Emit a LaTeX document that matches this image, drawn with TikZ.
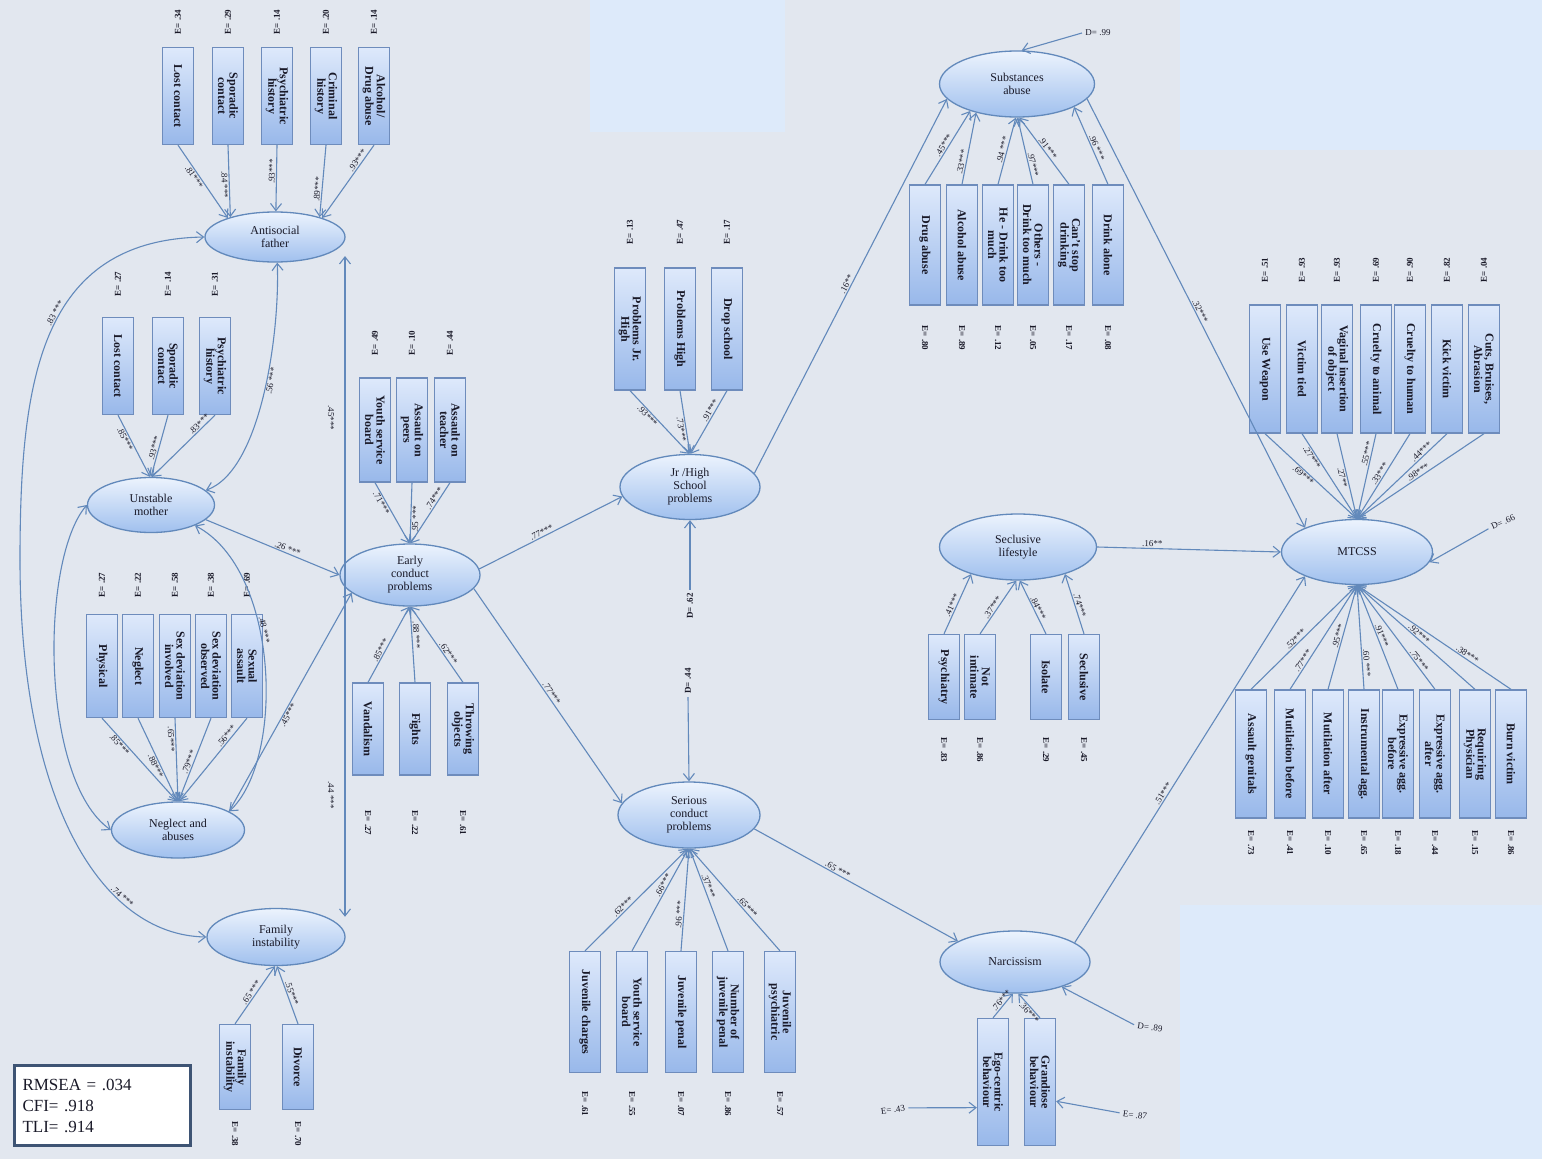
\documentclass[tikz,border=0pt]{standalone}
\usepackage{fontspec}
\setmainfont{Liberation Serif}
\usetikzlibrary{shapes.geometric,arrows.meta,calc}
\definecolor{bgc}{RGB}{226,231,239}
\definecolor{patch}{RGB}{221,234,250}
\definecolor{ln}{RGB}{98,137,187}
\definecolor{bxc}{RGB}{110,140,188}
\definecolor{bxdark}{RGB}{152,184,234}
\definecolor{bxlight}{RGB}{222,233,251}
\definecolor{latlight}{RGB}{236,243,253}
\definecolor{latdark}{RGB}{160,192,238}
\definecolor{txt}{RGB}{25,25,40}
\definecolor{fitc}{RGB}{62,84,116}
\newcommand\bxfont{\bfseries\fontsize{12}{11.5}\selectfont}
\newcommand\latfont{\fontsize{12}{13}\selectfont}
\newcommand\lbfont{\fontsize{9}{10}\selectfont}
\tikzset{
 obs/.style={draw=bxc, line width=1.3pt, rotate=-90, minimum height=31pt, inner sep=1pt, align=center, font=\bxfont, text=txt, top color=bxlight, bottom color=bxdark},
 lat/.style={ellipse, draw=ln, line width=1.3pt, top color=latlight, bottom color=latdark, align=center, inner sep=0pt, font=\latfont, text=txt},
 ld/.style={draw=ln, line width=1.1pt, -{Straight Barb[length=7pt,width=11pt]}},
 dd/.style={draw=ln, line width=1.1pt, {Straight Barb[length=7pt,width=11pt]}-{Straight Barb[length=7pt,width=11pt]}},
 lbl/.style={font=\lbfont, text=txt, sloped, inner sep=1pt},
 eu/.style={rotate=90, font=\lbfont\bfseries, text=txt},
 edn/.style={rotate=-90, font=\lbfont\bfseries, text=txt},
 plain/.style={font=\lbfont, text=txt},
}
\begin{document}
\begin{tikzpicture}[x=1pt,y=-1pt]
\useasboundingbox (0,0) rectangle (1542,1159);
\fill[bgc] (0,0) rectangle (1542,1159);
\fill[patch] (590,0) rectangle (785,132);
\fill[patch] (1180,0) rectangle (1542,150);
\fill[patch] (1180,905) rectangle (1542,1159);

% ---------- latent variables
\node[lat, minimum width=140, minimum height=50] (af) at (275,237) {Antisocial\\father};
\node[lat, minimum width=127, minimum height=55] (um) at (151,505) {Unstable\\mother};
\node[lat, minimum width=133, minimum height=56] (na) at (178,830) {Neglect and\\abuses};
\node[lat, minimum width=138, minimum height=57] (fi) at (276,937) {Family\\instability};
\node[lat, minimum width=140, minimum height=62] (ec) at (410,575) {Early\\conduct\\problems};
\node[lat, minimum width=140, minimum height=65] (jh) at (690,487) {Jr /High\\School\\problems};
\node[lat, minimum width=142, minimum height=66] (sc) at (689,815) {Serious\\conduct\\problems};
\node[lat, minimum width=155, minimum height=66] (sa) at (1017,84) {Substances\\abuse};
\node[lat, minimum width=157, minimum height=66] (sl) at (1018,547) {Seclusive\\lifestyle};
\node[lat, minimum width=150, minimum height=62] (nc) at (1015,962) {Narcissism};
\node[lat, minimum width=151, minimum height=65] (mt) at (1357,552) {MTCSS};

% ---------- Antisocial father
\foreach \nm/\xx/\tx/\ev in {a1/178/{Lost contact}/.34, a2/228/{Sporadic\\contact}/.29, a3/277/{Psychiatric\\history}/.14, a4/326/{Criminal\\history}/.20, a5/374/{Alcohol/\\Drug abuse}/.14}{
 \node[obs, minimum width=97] (\nm) at (\xx,96) {\tx};
 \node[eu] (e\nm) at (\xx,22) {E= \ev};}
\foreach \nm/\tg/\lv/\sd/\ps in {a1/af.158/{.81***}/below/.4, a2/af.156/{.84 ***}/below/.55, a3/af.88/{.93***}/above/.4, a4/af.24/{.89***}/above/.62, a5/af.22/{.93***}/above/.25}
 \draw[ld] (\nm.east) -- (\tg) node[lbl,pos=\ps,\sd] {\lv};

% ---------- Unstable mother
\foreach \nm/\xx/\tx/\ev in {m1/118/{Lost contact}/.27, m2/168/{Sporadic\\contact}/.14, m3/215/{Psychiatric\\history}/.31}{
 \node[obs, minimum width=97] (\nm) at (\xx,366) {\tx};
 \node[eu] (e\nm) at (\xx,284) {E= \ev};}
\foreach \nm/\tg/\lv/\sd/\ps in {m1/um.92/{.85***}/below/.35, m2/um.90/{.93***}/above/.55, m3/um.88/{.83***}/above/.2}
 \draw[ld] (\nm.east) -- (\tg) node[lbl,pos=\ps,\sd] {\lv};

% ---------- Neglect and abuses
\foreach \nm/\xx/\tx/\ev in {n1/102/{Physical}/.27, n2/138/{Neglect}/.22, n3/175/{Sex deviation\\involved}/.58, n4/211/{Sex deviation\\observed}/.38, n5/247/{Sexual\\assault}/.69}{
 \node[obs, minimum width=103] (\nm) at (\xx,666) {\tx};
 \node[eu] (e\nm) at (\xx,585) {E= \ev};}
\foreach \nm/\tg/\lv/\sd/\ps in {n1/na.92/{.85***}/below/.28, n2/na.91/{.88***}/below/.55, n3/na.90/{.65***}/below/.25, n4/na.89/{.79***}/above/.55, n5/na.88/{.56***}/above/.25}
 \draw[ld] (\nm.east) -- (\tg) node[lbl,pos=\ps,\sd] {\lv};

% ---------- Family instability
\foreach \nm/\xx/\tx/\ev in {f1/235/{Family\\instability}/.38, f2/298/{Divorce}/.70}{
 \node[obs, minimum width=85] (\nm) at (\xx,1067) {\tx};
 \node[edn] (e\nm) at (\xx,1134) {E= \ev};}
\draw[ld] (f1.west) -- (fi.-92) node[lbl,pos=.5,above] {.65 ***};
\draw[ld] (f2.west) -- (fi.-88) node[lbl,pos=.5,above] {.55***};

% ---------- Early conduct problems
\foreach \nm/\xx/\tx/\ev in {c1/375/{Youth service\\board}/.49, c2/412/{Assault on\\peers}/.10, c3/450/{Assault on\\teacher}/.44}{
 \node[obs, minimum width=104] (\nm) at (\xx,430) {\tx};
 \node[eu] (e\nm) at (\xx,343) {E= \ev};}
\foreach \nm/\tg/\lv/\sd/\ps in {c1/ec.91/{.71***}/below/.3, c2/ec.90/{.95 ***}/below/.6, c3/ec.89/{.74***}/above/.3}
 \draw[ld] (\nm.east) -- (\tg) node[lbl,pos=\ps,\sd] {\lv};
\foreach \nm/\xx/\tx/\ev in {c4/368/{Vandalism}/.27, c5/415/{Fights}/.22, c6/463/{Throwing\\objects}/.61}{
 \node[obs, minimum width=92] (\nm) at (\xx,729) {\tx};
 \node[edn] (e\nm) at (\xx,823) {E= \ev};}
\foreach \nm/\tg/\lv/\sd/\ps in {c4/ec.-91/{.85***}/above/.4, c5/ec.-90/{.88 ***}/above/.62, c6/ec.-89/{.62***}/above/.35}
 \draw[ld] (\nm.west) -- (\tg) node[lbl,pos=\ps,\sd] {\lv};

% ---------- Jr/High school problems
\foreach \nm/\xx/\tx/\ev in {j1/630/{Problems Jr.\\High}/.13, j2/680/{Problems High}/.47, j3/727/{Drop school}/.17}{
 \node[obs, minimum width=122] (\nm) at (\xx,329) {\tx};
 \node[eu] (e\nm) at (\xx,232) {E= \ev};}
\foreach \nm/\tg/\lv/\sd/\ps in {j1/jh.91/{.93***}/below/.35, j2/jh.90/{.73***}/below/.6, j3/jh.89/{.91***}/above/.35}
 \draw[ld] (\nm.east) -- (\tg) node[lbl,pos=\ps,\sd] {\lv};
\node[eu] (djh) at (690,606) {D= .62};
\draw[ld] (djh.east) -- (jh.south);

% ---------- Serious conduct problems
\foreach \nm/\xx/\tx/\ev in {s1/585/{Juvenile charges}/.61, s2/632/{Youth service\\board}/.55, s3/681/{Juvenile penal}/.07, s4/728/{Number of\\juvenile penal}/.86, s5/780/{Juvenile\\psychiatric}/.57}{
 \node[obs, minimum width=121] (\nm) at (\xx,1012) {\tx};
 \node[edn] (e\nm) at (\xx,1104) {E= \ev};}
\foreach \nm/\tg/\lv/\sd/\ps in {s1/sc.-92/{.62***}/above/.4, s2/sc.-91/{.66***}/above/.62, s3/sc.-90/{.96 ***}/above/.35, s4/sc.-89/{.37***}/above/.62, s5/sc.-88/{.65***}/above/.4}
 \draw[ld] (\nm.west) -- (\tg) node[lbl,pos=\ps,\sd] {\lv};
\node[eu] (dsc) at (688,681) {D= .44};
\draw[ld] (dsc.west) -- (sc.north);

% ---------- Substances abuse
\foreach \nm/\xx/\tx/\ev in {u1/925/{Drug abuse}/.80, u2/962/{Alcohol abuse}/.89, u3/998/{He - Drink too\\much}/.12, u4/1033/{Others -\\Drink too much}/.05, u5/1069/{Can't stop\\drinking}/.17, u6/1108/{Drink alone}/.08}{
 \node[obs, minimum width=120] (\nm) at (\xx,245) {\tx};
 \node[edn] (e\nm) at (\xx,338) {E= \ev};}
\foreach \nm/\tg/\lv/\sd/\ps in {u1/sa.-150/{.45***}/above/.5, u2/sa.-145/{.33***}/above/.3, u3/sa.-92/{.94 ***}/above/.5, u4/sa.-89/{.97***}/above/.28, u5/sa.-86/{.91***}/above/.5, u6/sa.-22/{.96 ***}/above/.45}
 \draw[ld] (\nm.west) -- (\tg) node[lbl,pos=\ps,\sd] {\lv};
\node[plain] (dsa) at (1098,33) {D= .99};
\draw[ld] (dsa.west) -- (sa.82);

% ---------- Seclusive lifestyle
\foreach \nm/\xx/\tx/\ev in {l1/944/{Psychiatry}/.83, l2/980/{Not\\intimate}/.86, l3/1046/{Isolate}/.29, l4/1084/{Seclusive}/.45}{
 \node[obs, minimum width=85] (\nm) at (\xx,677) {\tx};
 \node[edn] (e\nm) at (\xx,750) {E= \ev};}
\foreach \nm/\tg/\lv/\sd in {l1/sl.-150/{.41***}/above, l2/sl.-93/{.37***}/above, l3/sl.-87/{.84***}/above, l4/sl.-30/{.74***}/above}
 \draw[ld] (\nm.west) -- (\tg) node[lbl,pos=.45,\sd] {\lv};

% ---------- Narcissism
\foreach \nm/\xx/\tx in {r1/993/{Ego-centric\\behaviour}, r2/1040/{Grandiose\\behaviour}}
 \node[obs, minimum width=127] (\nm) at (\xx,1082) {\tx};
\draw[ld] (r1.west) -- (nc.-94) node[lbl,pos=.6,above] {.76***};
\draw[ld] (r2.west) -- (nc.-84) node[lbl,pos=.35,below] {.36***};
\node[plain, rotate=8] (er1) at (893,1110) {E= .43};
\draw[ld] (er1.east) -- ($(r1.south)!0.4!(r1.south east)$);
\node[plain, rotate=-8] (er2) at (1135,1115) {E= .87};
\draw[ld] (er2.west) -- ($(r2.north)!0.3!(r2.north east)$);
\node[plain, rotate=-8] (dnc) at (1150,1027) {D= .89};
\draw[ld] (dnc.west) -- (nc.-28);

% ---------- MTCSS
\foreach \nm/\xx/\tx/\ev in {t1/1265/{Use Weapon}/.51, t2/1302/{Victim tied}/.93, t3/1337/{Vaginal insertion\\of object}/.93, t4/1376/{Cruelty to animal}/.69, t5/1410/{Cruelty to human}/.90, t6/1447/{Kick victim}/.82, t7/1484/{Cuts, Bruises,\\Abrasion}/.04}{
 \node[obs, minimum width=128] (\nm) at (\xx,369) {\tx};
 \node[eu] (e\nm) at (\xx,270) {E= \ev};}
\foreach \nm/\lv/\sd/\ps in {t1/{.69***}/below/.45, t2/{.27***}/below/.25, t3/{.27**}/below/.5, t4/{.55***}/above/.25, t5/{.33***}/above/.5, t6/{.44***}/above/.25, t7/{.98***}/above/.5}
 \draw[ld] (\nm.east) -- (mt.north) node[lbl,pos=\ps,\sd] {\lv};
\foreach \nm/\xx/\tx/\ev in {b1/1251/{Assault genitals}/.73, b2/1290/{Mutilation before}/.41, b3/1328/{Mutilation after}/.10, b4/1364/{Instrumental agg.}/.65, b5/1398/{Expressive agg.\\before}/.18, b6/1435/{Expressive agg.\\after}/.44, b7/1475/{Requiring\\Physician}/.15, b8/1511/{Burn victim}/.86}{
 \node[obs, minimum width=128] (\nm) at (\xx,754) {\tx};
 \node[edn] (e\nm) at (\xx,843) {E= \ev};}
\foreach \nm/\lv/\sd/\ps in {b1/{.52***}/above/.45, b2/{.77***}/above/.25, b3/{.95***}/above/.5, b4/{.60 ***}/above/.25, b5/{.91***}/above/.5, b6/{.75***}/above/.25, b7/{.92***}/above/.5, b8/{.38***}/above/.3}
 \draw[ld] (\nm.west) -- (mt.south) node[lbl,pos=\ps,\sd] {\lv};
\node[plain, rotate=25] (dmt) at (1503,522) {D= .66};
\draw[ld] (dmt.west) -- (mt.-8);

% ---------- structural paths
\draw[ld] (ec.5) -- (jh.188) node[lbl,pos=.45,above] {.77***};
\draw[ld] (ec.-12) -- (sc.170) node[lbl,pos=.5,above] {.77***};
\draw[ld] (jh.12) -- (sa.192) node[lbl,pos=.5,above] {.16**};
\draw[ld] (sa.-12) -- (mt.155) node[lbl,pos=.5,above] {.32***};
\draw[ld] (sl.east) -- (mt.west) node[lbl,pos=.3,above] {.16**};
\draw[ld] (nc.18) -- (mt.205) node[lbl,pos=.4,above] {.51***};
\draw[ld] (sc.-12) -- (nc.160) node[lbl,pos=.4,above] {.65 ***};

% ---------- left block
\draw[ld] (um.-15) -- (ec.west) node[lbl,pos=.6,above] {.26 ***};
\draw[ld] (na.20) -- (ec.197) node[lbl,pos=.45,below] {.45***};
\draw[dd] (um.15) .. controls (262,470) and (280,330) .. (af.-85) node[lbl,pos=.55,below] {.56 ***};
\draw[dd] (um.-25) .. controls (280,570) and (285,760) .. (na.20) node[lbl,pos=.4,above] {.48 ***};
\draw[dd] (um.west) .. controls (40,560) and (40,780) .. (na.west);
\coordinate (afL) at (20,560);
\draw[ln, line width=1.1pt, {Straight Barb[length=7pt,width=11pt]}-] (af.west) .. controls (40,240) and (20,380) .. (afL) node[lbl,pos=.45,above] {.83 ***};
\draw[ld] (afL) .. controls (20,800) and (100,935) .. (fi.west) node[lbl,pos=.7,above] {.74 ***};
\coordinate (ecL) at (345,575);
\draw[ld] (ecL) -- (ecL |- af.-22);
\draw[ld] (ecL) -- (ecL |- fi.22);
\node[plain, rotate=-90] (l45) at (331,418) {.45***};
\node[plain, rotate=-90] (l44) at (331,795) {.44 ***};

% ---------- fit box
\node[draw=fitc, line width=3pt, fill=white, anchor=north west, minimum width=176, minimum height=80, text width=160, align=left, inner sep=6pt, font=\fontsize{17}{21}\selectfont, text=txt] (fit) at (13,1064) {RMSEA = .034\\CFI= .918\\TLI= .914};
\end{tikzpicture}
\end{document}
